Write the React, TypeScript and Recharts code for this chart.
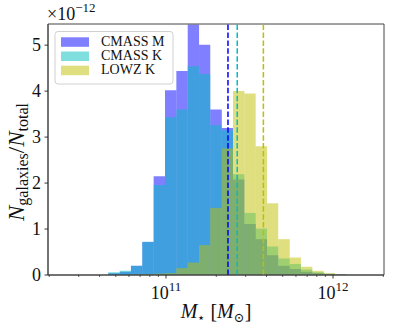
import React from "react";
import { ComposedChart, XAxis, YAxis, ReferenceArea, ReferenceLine } from "recharts";

// log10 of histogram bin edges (stellar mass, M_sun)
const binEdgesLog = [
  10.587, 10.654, 10.723, 10.79, 10.858, 10.926, 10.994, 11.062, 11.13, 11.198, 11.265, 11.334,
  11.401, 11.469, 11.537, 11.605, 11.672, 11.741, 11.808, 11.876, 11.944, 12.012, 12.08,
];
// normalised counts, in units of 1e-12
const cmassM = [0, 0.04, 0.07, 0.2, 0.72, 2.15, 4.02, 4.44, 5.45, 5.01, 3.6, 3.2, 2.08, 1.11, 0.78, 0.43, 0.2, 0.13, 0.07, 0.04, 0.02, 0.01];
const cmassK = [0, 0.06, 0.09, 0.2, 0.72, 1.96, 3.43, 3.6, 4.54, 4.37, 3.26, 3.15, 2.19, 1.35, 1.01, 0.62, 0.36, 0.24, 0.12, 0.06, 0.03, 0.01];
const lowzK = [0, 0, 0, 0.01, 0.02, 0.03, 0.04, 0.15, 0.27, 0.65, 1.46, 2.75, 4.0, 3.95, 2.8, 1.56, 0.78, 0.38, 0.18, 0.09, 0.04, 0.01];
const medians = [2.35e11, 2.67e11, 3.83e11];
const seriesNames = ["CMASS M", "CMASS K", "LOWZ K"];
const seriesColors = ["#0000ff", "#00bfbf", "#bfbf00"];
const xMajorTicks = [1e11, 1e12];
const xMinorTicks = [2e10, 3e10, 4e10, 5e10, 6e10, 7e10, 8e10, 9e10, 2e11, 3e11, 4e11, 5e11, 6e11, 7e11, 8e11, 9e11, 2e12];
const yTicks = [0, 1, 2, 3, 4, 5];

const W = 394;
const H = 331;
const X_DOMAIN: [number, number] = [1.965e10, 2.02e12];
const Y_DOMAIN: [number, number] = [0, 5.46];
const FONT = "'Liberation Serif', 'DejaVu Serif', serif";
const AXIS = "#444";

const allSeries = [cmassM, cmassK, lowzK];
const edges = binEdgesLog.map((e) => Math.pow(10, e));
const table = edges.slice(0, -1).map((lo, i) => ({
  x: Math.sqrt(lo * edges[i + 1]),
  lo,
  hi: edges[i + 1],
  m: cmassM[i],
  k: cmassK[i],
  l: lowzK[i],
}));
const xTicks = [...xMajorTicks, ...xMinorTicks].sort((a, b) => a - b);

const XTick = (props: any) => {
  const { x, y, payload } = props;
  const lv = Math.log10(payload.value);
  const exp = Math.round(lv);
  const major = Math.abs(lv - exp) < 1e-6;
  return (
    <g>
      <line x1={x} x2={x} y1={y} y2={y + (major ? 3.5 : 2)} stroke="#222" strokeWidth={major ? 0.9 : 0.7} />
      {major && (
        <text x={x} y={y + 24} textAnchor="middle" fontFamily={FONT} fontSize={18} fill="#111">
          10
          <tspan dy={-8} fontSize={13}>
            {exp}
          </tspan>
        </text>
      )}
    </g>
  );
};

const YTick = (props: any) => {
  const { x, y, payload } = props;
  return (
    <g>
      <line x1={x - 3.5} x2={x} y1={y} y2={y} stroke="#222" strokeWidth={0.9} />
      <text x={x - 7} y={y + 6} textAnchor="end" fontFamily={FONT} fontSize={18} fill="#111">
        {payload.value}
      </text>
    </g>
  );
};

export default function App() {
  return (
    <div style={{ position: "relative", width: W, height: H, background: "#fff" }}>
      <style>{"body{margin:0}"}</style>
      <ComposedChart width={W} height={H} data={table} margin={{ top: 24, right: 10, bottom: 26, left: 8 }}>
        <XAxis
          dataKey="x"
          type="number"
          scale="log"
          domain={X_DOMAIN}
          allowDataOverflow
          ticks={xTicks}
          interval={0}
          tick={<XTick />}
          tickLine={false}
          tickSize={0}
          tickMargin={0}
          height={30}
          axisLine={{ stroke: AXIS, strokeWidth: 1 }}
        />
        <YAxis
          type="number"
          domain={Y_DOMAIN}
          allowDataOverflow
          ticks={yTicks}
          interval={0}
          tick={<YTick />}
          tickLine={false}
          tickSize={0}
          tickMargin={0}
          width={40}
          axisLine={{ stroke: AXIS, strokeWidth: 1 }}
        />
        {allSeries.map((vals, si) =>
          table.map((b, i) =>
            vals[i] > 0 ? (
              <ReferenceArea
                key={`s${si}-${i}`}
                x1={b.lo}
                x2={b.hi}
                y1={0}
                y2={vals[i]}
                fill={seriesColors[si]}
                fillOpacity={0.5}
                stroke="none"
                ifOverflow="visible"
              />
            ) : null
          )
        )}
        {medians.map((m, i) => (
          <ReferenceLine
            key={`med${i}`}
            x={m}
            stroke={seriesColors[i]}
            strokeWidth={1.5}
            strokeDasharray="5.5 2.4"
          />
        ))}
        <ReferenceArea
          x1={X_DOMAIN[0]}
          x2={X_DOMAIN[1]}
          y1={Y_DOMAIN[0]}
          y2={Y_DOMAIN[1]}
          fill="none"
          stroke={AXIS}
          strokeWidth={1}
          ifOverflow="visible"
        />
      </ComposedChart>
      <svg
        width={W}
        height={H}
        style={{ position: "absolute", left: 0, top: 0, pointerEvents: "none" }}
      >
        {/* offset text */}
        <text x={47} y={20} fontFamily={FONT} fontSize={18} fill="#111">
          ×10
          <tspan dy={-8} fontSize={13}>
            −12
          </tspan>
        </text>
        {/* legend */}
        <rect x={55} y={31.5} width={118} height={52.5} rx={3} fill="#fff" fillOpacity={0.8} stroke="#d0d0d0" strokeWidth={1} />
        {seriesNames.map((n, i) => (
          <g key={n}>
            <rect x={61} y={37.3 + i * 14.2} width={28} height={9.5} fill={seriesColors[i]} fillOpacity={0.5} />
            <text x={101} y={46 + i * 14.2} fontFamily={FONT} fontSize={14} fill="#111">
              {n}
            </text>
          </g>
        ))}
        {/* x label */}
        <text x={216} y={318} textAnchor="middle" fontFamily={FONT} fontSize={20} fill="#111">
          <tspan fontStyle="italic">M</tspan>
          <tspan fontSize={13} dy={4}>⋆</tspan>
          <tspan dy={-4}> [</tspan>
          <tspan fontStyle="italic">M</tspan>
          <tspan fontSize={13} dy={4}>⊙</tspan>
          <tspan dy={-4}>]</tspan>
        </text>
        {/* y label */}
        <text
          x={0}
          y={0}
          transform="translate(24,162) rotate(-90)"
          textAnchor="middle"
          fontFamily={FONT}
          fontSize={23}
          fill="#111"
        >
          <tspan fontStyle="italic">N</tspan>
          <tspan fontSize={16} dy={4}>galaxies</tspan>
          <tspan dy={-4}>/</tspan>
          <tspan fontStyle="italic">N</tspan>
          <tspan fontSize={16} dy={4}>total</tspan>
        </text>
      </svg>
    </div>
  );
}
